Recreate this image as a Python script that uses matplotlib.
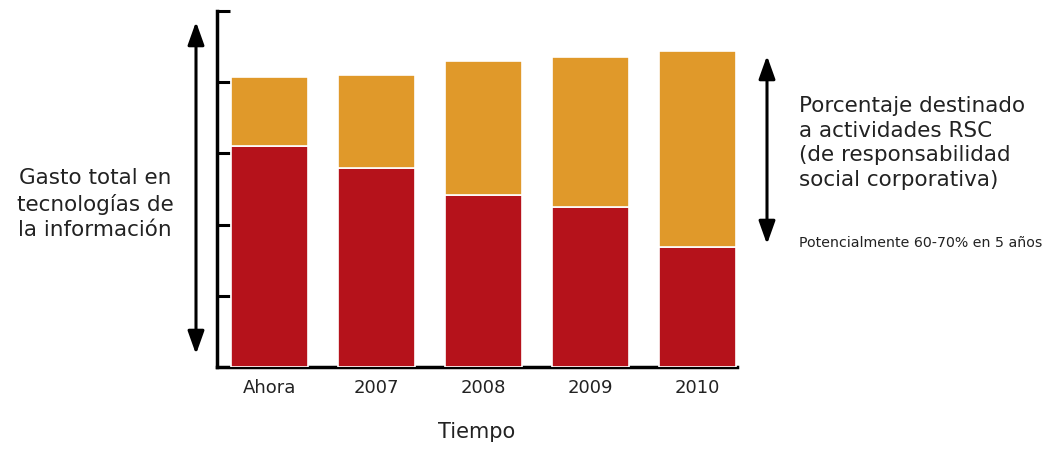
import numpy as np
import matplotlib
matplotlib.use('Agg')
import matplotlib.pyplot as plt

# data (axis units, ticks at 1..5)
categories = ['Ahora', '2007', '2008', '2009', '2010']
gasto_ti = [3.11, 2.80, 2.41, 2.25, 1.69]     # red part
rsc = [0.97, 1.30, 1.89, 2.10, 2.75]          # orange part

red = '#B5121B'
orange = '#E0992A'
plt.rcParams['font.family'] = ['DejaVu Sans']

W, H = 1054, 452
fig = plt.figure(figsize=(W / 100, H / 100), dpi=100)
ax = fig.add_axes([217 / W, 1 - 368 / H, 520 / W, (368 - 12) / H])

x = np.arange(len(categories))
ax.bar(x, gasto_ti, width=0.72, color=red, edgecolor='white', linewidth=1.2, zorder=3)
ax.bar(x, rsc, width=0.72, bottom=gasto_ti, color=orange, edgecolor='white', linewidth=1.2, zorder=3)

ax.set_xlim(-0.495, 4.37)
ax.set_ylim(0, 5)
for s in ['top', 'right']:
    ax.spines[s].set_visible(False)
for s in ['left', 'bottom']:
    ax.spines[s].set_linewidth(2.5)
    ax.spines[s].set_zorder(2)
ax.set_yticks([1, 2, 3, 4, 5])
ax.set_yticklabels([])
ax.tick_params(axis='y', direction='in', length=9.5, width=2.2)
ax.set_xticks(x)
ax.set_xticklabels(categories, fontsize=13, color='#222222')
ax.tick_params(axis='x', length=0, pad=8)
ax.set_xlabel('Tiempo', fontsize=15, color='#222222', labelpad=18)

# double arrows
def px(xp, yp):
    return (xp / W, 1 - yp / H)

for (x0, y0, y1) in [(196, 20, 358), (767, 54, 248)]:
    fig.add_artist(matplotlib.patches.FancyArrowPatch(px(x0, y0), px(x0, y1), transform=fig.transFigure,
                                                      arrowstyle='<|-|>,head_length=14,head_width=5',
                                                      color='black', linewidth=2.2))

fig.text(*px(95, 204), 'Gasto total en\ntecnologías de\nla información', ha='center', va='center',
         fontsize=15.5, color='#222222', linespacing=1.35)
fig.text(*px(799, 143), 'Porcentaje destinado\na actividades RSC\n(de responsabilidad\nsocial corporativa)',
         ha='left', va='center', fontsize=15.5, color='#222222', linespacing=1.3)
fig.text(*px(799, 243), 'Potencialmente 60-70% en 5 años', ha='left', va='center',
         fontsize=10.2, color='#222222')

fig.savefig('out.png', dpi=100)
